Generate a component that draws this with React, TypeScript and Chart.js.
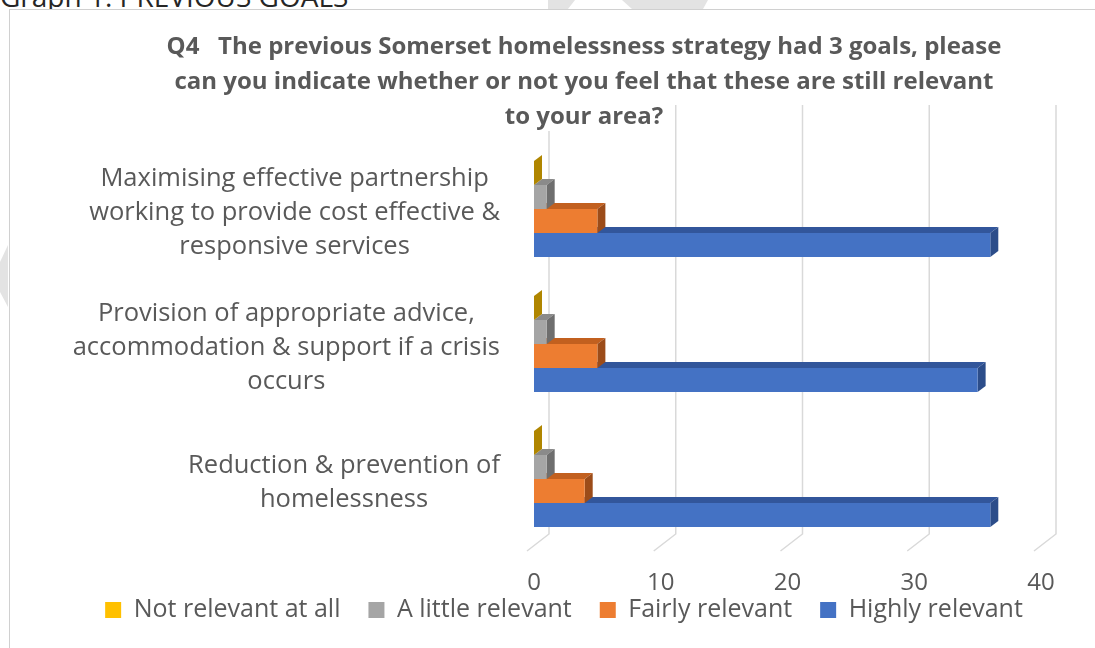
import React, { useEffect, useRef } from "react";
import { Chart, registerables } from "chart.js";

Chart.register(...registerables);

// ---------- data ----------
const categories: string[][] = [
  ["Maximising effective partnership", "working to provide cost effective &", "responsive services"],
  ["Provision of appropriate advice,", "accommodation & support if a crisis", "occurs"],
  ["Reduction & prevention of", "homelessness"],
];
const seriesNames = ["Not relevant at all", "A little relevant", "Fairly relevant", "Highly relevant"];
const notRelevant = [0, 0, 0];
const littleRelevant = [1, 1, 1];
const fairlyRelevant = [5, 5, 4];
const highlyRelevant = [36, 35, 36];
const xTicks = [0, 10, 20, 30, 40];
const titleLines = [
  "Q4   The previous Somerset homelessness strategy had 3 goals, please",
  "can you indicate whether or not you feel that these are still relevant",
  "to your area?",
];
const headingText = "Graph 1: PREVIOUS GOALS";

// ---------- styles ----------
const FONT = "'Open Sans', 'Noto Sans', sans-serif";
const TEXT = "#595959";
const frontColors = ["#FFC000", "#A5A5A5", "#ED7D31", "#4472C4"];
const topColors = ["#C99700", "#8A8A8A", "#C2601F", "#32569B"];
const sideColors = ["#B08600", "#6E6E6E", "#9C4C19", "#2C4D8A"];
const DX = 8;
const DY = -6;
const GRID = "#d9d9d9";
const TITLE_SIZE = 24;
const TITLE_LH = 35;
const TITLE_SHIFT = 53.5;
const LEGEND_SHIFT_X = 33.5;
const LEGEND_SHIFT_Y = -25.5;

export default function App() {
  const ref = useRef<HTMLCanvasElement>(null);

  useEffect(() => {
    const canvas = ref.current;
    if (!canvas) return;

    const values = [notRelevant, littleRelevant, fairlyRelevant, highlyRelevant];

    const gridPlugin = {
      id: "grid3d",
      beforeDraw(chart: any) {
        const { ctx, chartArea } = chart;
        const xs = chart.scales.x;
        ctx.save();
        ctx.strokeStyle = GRID;
        ctx.lineWidth = 1.5;
        xTicks.forEach((v) => {
          const px = xs.getPixelForValue(v);
          ctx.beginPath();
          ctx.moveTo(px + 15, chartArea.top - 36.5);
          ctx.lineTo(px + 15, chartArea.bottom - 12.5);
          ctx.lineTo(px - 7, chartArea.bottom + 4.5);
          ctx.stroke();
        });
        // white backing behind title lines
        const t = chart.titleBlock;
        if (t) {
          const opts = chart.options.plugins.title;
          ctx.font = `bold ${TITLE_SIZE}px ${FONT}`;
          const cx = (t.left + t.right) / 2;
          ctx.fillStyle = "#ffffff";
          titleLines.forEach((line, i) => {
            const w = ctx.measureText(line).width;
            const cy = t.top + opts.padding.top + TITLE_LH / 2 + i * TITLE_LH;
            ctx.fillRect(cx - w / 2 - 4, cy - 14, w + 8, 28);
          });
        }
        ctx.restore();
      },
    };

    const barPlugin = {
      id: "bar3d",
      beforeDatasetDraw(chart: any, args: any) {
        const i = args.index;
        const ctx = chart.ctx;
        ctx.save();
        args.meta.data.forEach((el: any) => {
          const p = el.getProps(["x", "y", "base", "height"], true);
          const top = p.y - p.height / 2;
          const bot = p.y + p.height / 2;
          const x0 = Math.min(p.base, p.x);
          const x1 = Math.max(p.base, p.x);
          ctx.fillStyle = topColors[i];
          ctx.beginPath();
          ctx.moveTo(x0, top);
          ctx.lineTo(x1, top);
          ctx.lineTo(x1 + DX, top + DY);
          ctx.lineTo(x0 + DX, top + DY);
          ctx.closePath();
          ctx.fill();
          ctx.fillStyle = sideColors[i];
          ctx.beginPath();
          ctx.moveTo(x1, top);
          ctx.lineTo(x1 + DX, top + DY);
          ctx.lineTo(x1 + DX, bot + DY);
          ctx.lineTo(x1, bot);
          ctx.closePath();
          ctx.fill();
        });
        ctx.restore();
      },
    };

    const labelPlugin = {
      id: "catLabels",
      afterDraw(chart: any) {
        const { ctx, chartArea } = chart;
        const ys = chart.scales.y;
        ctx.save();
        ctx.font = `25.5px ${FONT}`;
        ctx.fillStyle = TEXT;
        ctx.textAlign = "center";
        ctx.textBaseline = "middle";
        categories.forEach((lines, i) => {
          const cy = ys.getPixelForTick(i) + 4;
          const widest = Math.max(...lines.map((l) => ctx.measureText(l).width));
          const cx = chartArea.left - 34 - widest / 2;
          lines.forEach((l, j) => {
            ctx.fillText(l, cx, cy + (j - (lines.length - 1) / 2) * 34);
          });
        });
        ctx.restore();
      },
    };

    const shiftPlugin = {
      id: "boxShift",
      afterLayout(chart: any) {
        const lg = chart.legend;
        if (lg) {
          lg.left += LEGEND_SHIFT_X;
          lg.right += LEGEND_SHIFT_X;
          lg.top += LEGEND_SHIFT_Y;
          lg.bottom += LEGEND_SHIFT_Y;
        }
        const t = chart.titleBlock;
        if (t) {
          t.left += TITLE_SHIFT;
          t.right += TITLE_SHIFT;
        }
      },
    };

    const chart = new Chart(canvas, {
      type: "bar",
      data: {
        labels: categories as any,
        datasets: seriesNames.map((name, i) => ({
          label: name,
          data: values[i],
          backgroundColor: frontColors[i],
          borderWidth: 0,
          categoryPercentage: 96 / 135,
          barPercentage: 1,
        })),
      },
      options: {
        indexAxis: "y",
        responsive: false,
        animation: false,
        devicePixelRatio: 1,
        layout: { padding: { left: 20, right: 54, top: 0, bottom: -10 } },
        scales: {
          x: {
            min: 0,
            max: 40,
            afterBuildTicks: (s: any) => {
              s.ticks = xTicks.map((v) => ({ value: v }));
            },
            ticks: {
              color: TEXT,
              font: { family: FONT, size: 24, lineHeight: 1 },
              padding: 24.5,
              maxRotation: 0,
            },
            grid: { display: false, drawTicks: false },
            border: { display: false },
            afterFit: (s: any) => {
              s.height = 48.5;
            },
          },
          y: {
            ticks: { display: false },
            grid: { display: false, drawTicks: false },
            border: { display: false },
            afterFit: (s: any) => {
              s.width = 514;
            },
          },
        },
        plugins: {
          title: {
            display: true,
            text: titleLines,
            color: TEXT,
            font: { family: FONT, size: TITLE_SIZE, weight: "bold", lineHeight: TITLE_LH / TITLE_SIZE },
            padding: { top: 29.5, bottom: 7 },
          },
          legend: {
            position: "bottom",
            labels: {
              color: TEXT,
              font: { family: FONT, size: 25 },
              boxWidth: 16,
              boxHeight: 16,
              padding: 28,
            },
          },
          tooltip: { enabled: false },
        },
      } as any,
      plugins: [gridPlugin, barPlugin, labelPlugin, shiftPlugin],
    });

    return () => chart.destroy();
  }, []);

  return (
    <div
      style={{
        position: "fixed",
        left: 0,
        top: 0,
        width: 1095,
        height: 648,
        overflow: "hidden",
        background: "#ffffff",
      }}
    >
      <div
        style={{
          position: "absolute",
          left: 0,
          top: -18,
          fontFamily: FONT,
          fontSize: 28,
          lineHeight: "28px",
          color: "#262626",
          whiteSpace: "nowrap",
        }}
      >
        {headingText}
      </div>
      <svg width={1095} height={648} style={{ position: "absolute", left: 0, top: 0 }}>
        <polygon points="8,245 0,262 0,292 8,307" fill="#e3e3e3" />
        <polygon points="548,0 575,0 568,9 548,9" fill="#e3e3e3" />
        <polygon points="622,0 708,0 703,9 632,9" fill="#e3e3e3" />
      </svg>
      <div
        style={{
          position: "absolute",
          left: 9,
          top: 9,
          width: 1300,
          height: 900,
          border: "1px solid #d0d0d0",
          background: "#ffffff",
        }}
      />
      <canvas ref={ref} width={1095} height={648} style={{ position: "absolute", left: 0, top: 0 }} />
    </div>
  );
}
